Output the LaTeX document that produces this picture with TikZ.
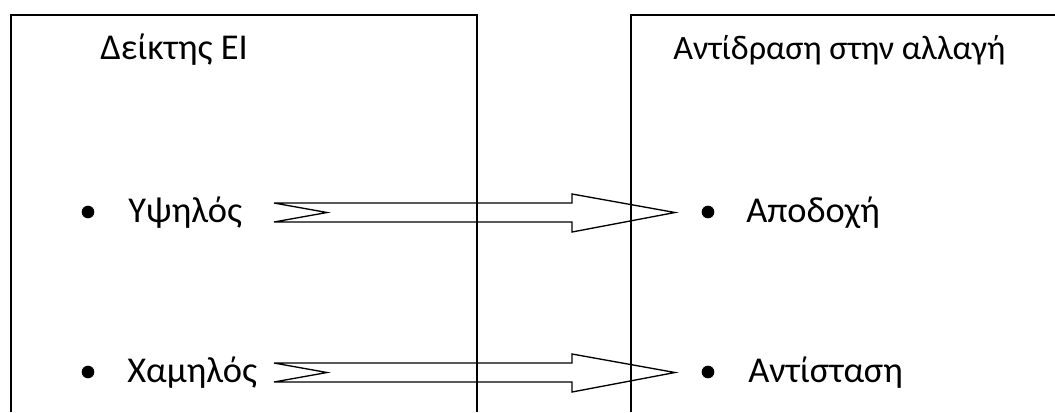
\documentclass[tikz,border=0pt]{standalone}
\usepackage{fontspec}
\setmainfont{Carlito}
\usetikzlibrary{calc}
\tikzset{
  lbl/.style={anchor=base west, inner sep=0pt, font=\fontsize{27.3pt}{32pt}\selectfont},
  dot/.style={circle, fill=black, inner sep=0pt, minimum size=9.5pt},
  frame/.style={line width=1.6pt},
  blockarrow/.style={line width=1pt, line join=miter}
}
% notched block arrow from tail coordinate #1 to tip coordinate #2 (same height)
\newcommand\notchedarrow[2]{%
  \draw[blockarrow] ($(#1)+(0,-9.5)$) -- ($(#2)+(-103,-9.5)$) -- ($(#2)+(-103,-18.5)$)
    -- (#2) -- ($(#2)+(-103,19.5)$) -- ($(#2)+(-103,9.5)$) -- ($(#1)+(0,9.5)$)
    -- ($(#1)+(53,0)$) -- cycle;}
\begin{document}
\begin{tikzpicture}[x=0.75pt,y=-0.75pt]
\useasboundingbox (0,0) rectangle (1055,412);
% headings
\node[lbl] (hl) at (100,59) {Δείκτης ΕΙ};
\node[lbl, font=\fontsize{25.6pt}{30pt}\selectfont] (hr) at (673,59) {Αντίδραση στην αλλαγή};
% left list
\node[dot] (b1) at (88,212) {};
\node[lbl] (hi) at (128,222) {Υψηλός};
\node[dot] (b2) at (88,372) {};
\node[lbl] (lo) at (127,382) {Χαμηλός};
% right list
\node[dot] (b3) at (708,212) {};
\node[lbl] (acc) at (746,222) {Αποδοχή};
\node[dot] (b4) at (708,372) {};
\node[lbl] (res) at (748,382) {Αντίσταση};
% arrows
\coordinate (t1) at (274,212.5);
\coordinate (p1) at (675,212.5);
\coordinate (t2) at (274,372.5);
\coordinate (p2) at (675,372.5);
\notchedarrow{t1}{p1}
\notchedarrow{t2}{p2}
% frames, open at the bottom
\draw[frame] (11,412) -- (11,15) -- (477,15) -- (477,412);
\draw[frame] (631,412) -- (631,15) -- (1055,15);
\end{tikzpicture}
\end{document}
